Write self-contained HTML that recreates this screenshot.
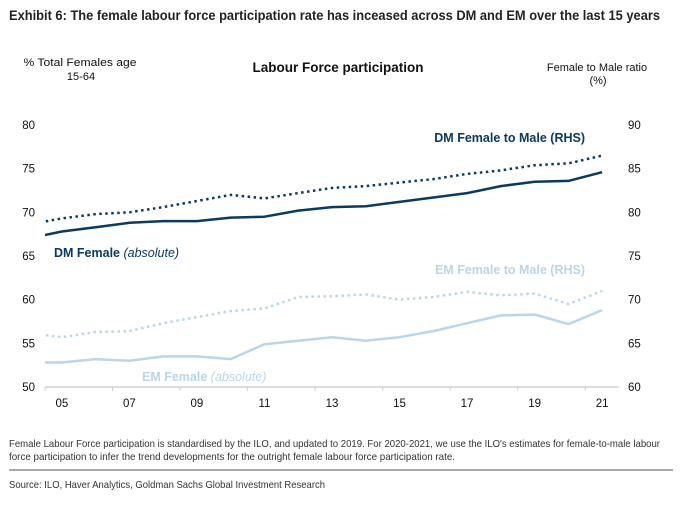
<!DOCTYPE html>
<html><head><meta charset="utf-8"><style>
body{margin:0;background:#fff;width:685px;height:501px;overflow:hidden;font-family:"Liberation Sans",Arial,sans-serif}
svg text{font-family:"Liberation Sans",Arial,sans-serif}
.n{font-family:"Liberation Sans Narrow","Liberation Sans",Arial,sans-serif}
</style></head><body>
<svg id="chart" width="685" height="501" viewBox="0 0 685 501">
<text class="n" x="9" y="20" font-size="13.5" font-weight="bold" fill="#222" textLength="651" lengthAdjust="spacingAndGlyphs">Exhibit 6: The female labour force participation rate has inceased across DM and EM over the last 15 years</text>
<text x="80" y="66" font-size="11" fill="#111" text-anchor="middle" textLength="113" lengthAdjust="spacingAndGlyphs">% Total Females age</text>
<text x="81" y="80" font-size="11" fill="#111" text-anchor="middle">15-64</text>
<text x="338" y="72" font-size="13.5" font-weight="bold" fill="#111" text-anchor="middle">Labour Force participation</text>
<text x="597" y="71" font-size="11" fill="#111" text-anchor="middle">Female to Male ratio</text>
<text x="598" y="84" font-size="11" fill="#111" text-anchor="middle">(%)</text>
<g id="axes"></g>
<g id="series"></g>
<text x="54" y="257" font-size="12.5" font-weight="bold" fill="#0b3a60">DM Female <tspan font-weight="normal" font-style="italic">(absolute)</tspan></text>
<text x="585" y="142" font-size="12.5" font-weight="bold" fill="#0b3a60" text-anchor="end">DM Female to Male (RHS)</text>
<text x="585" y="274" font-size="12.5" font-weight="bold" fill="#b9d6ec" text-anchor="end">EM Female to Male (RHS)</text>
<text x="142" y="381" font-size="12.5" font-weight="bold" fill="#b9d6ec">EM Female <tspan font-weight="normal" font-style="italic">(absolute)</tspan></text>
<text class="n" x="9" y="447" font-size="10.5" fill="#333" textLength="651" lengthAdjust="spacingAndGlyphs">Female Labour Force participation is standardised by the ILO, and updated to 2019. For 2020-2021, we use the ILO's estimates for female-to-male labour</text>
<text class="n" x="9" y="460" font-size="10.5" fill="#333" textLength="446" lengthAdjust="spacingAndGlyphs">force participation to infer the trend developments for the outright female labour force participation rate.</text>
<line x1="9" y1="470" x2="673" y2="470" stroke="#777" stroke-width="1.2"/>
<text class="n" x="9" y="488" font-size="10.5" fill="#333" textLength="316" lengthAdjust="spacingAndGlyphs">Source: ILO, Haver Analytics, Goldman Sachs Global Investment Research</text>
</svg>
<script>
const years=[2004,2005,2006,2007,2008,2009,2010,2011,2012,2013,2014,2015,2016,2017,2018,2019,2020,2021];
const dmFemale=[67.0,67.8,68.3,68.8,69.0,69.0,69.4,69.5,70.2,70.6,70.7,71.2,71.7,72.2,73.0,73.5,73.6,74.6];
const emFemale=[52.8,52.8,53.2,53.0,53.5,53.5,53.2,54.9,55.3,55.7,55.3,55.7,56.4,57.3,58.2,58.3,57.2,58.8];
const dmRatio=[78.6,79.3,79.8,80.0,80.6,81.3,82.0,81.6,82.2,82.8,83.0,83.4,83.8,84.4,84.8,85.4,85.6,86.5];
const emRatio=[66.2,65.7,66.3,66.4,67.3,68.0,68.7,69.0,70.3,70.4,70.6,70.0,70.3,70.9,70.5,70.7,69.5,71.0];
const leftTicks=[50,55,60,65,70,75,80];
const rightTicks=[60,65,70,75,80,85,90];
const xLabels=["05","07","09","11","13","15","17","19","21"];
const NS="http://www.w3.org/2000/svg";
const X0=45,X1=619,BW=(X1-X0)/17,YT=125,YB=387;
function x(yr){return X0+(yr-2004.5)*BW;}
function yL(v){return YB-(v-50)/30*(YB-YT);}
function yR(v){return YB-(v-60)/30*(YB-YT);}
const axes=document.getElementById('axes'),series=document.getElementById('series');
function mk(t,a,p){const e=document.createElementNS(NS,t);for(const k in a)e.setAttribute(k,a[k]);p.appendChild(e);return e;}
const base=mk('line',{x1:X0,y1:YB,x2:X1,y2:YB,stroke:'#d0d0d0','stroke-width':1.5},axes);


for(let i=0;i<=8;i++){const tx=X0+i*2*BW;const t=mk('line',{x1:tx,y1:YB,x2:tx,y2:YB+4,stroke:'#d0d0d0','stroke-width':1},axes);

}
xLabels.forEach((l,i)=>{const t=mk('text',{x:x(2005+2*i),y:YB+20,'font-size':11.5,fill:'#111','text-anchor':'middle'},axes);t.textContent=l;

});
leftTicks.forEach(v=>{const t=mk('text',{x:35,y:yL(v)+4,'font-size':11.5,fill:'#111','text-anchor':'end'},axes);t.textContent=v;

});
rightTicks.forEach(v=>{const t=mk('text',{x:628,y:yR(v)+4,'font-size':11.5,fill:'#111'},axes);t.textContent=v;

});
mk('clipPath',{id:'cp'},series).appendChild(document.createElementNS(NS,'rect'));
const cr=series.querySelector('rect');cr.setAttribute('x',X0);cr.setAttribute('y',0);cr.setAttribute('width',X1-X0);cr.setAttribute('height',501);
function line(vals,fy,col,w,dash,name){const d=vals.map((v,i)=>(i?'L':'M')+x(years[i]).toFixed(1)+','+fy(v).toFixed(1)).join('');
const a={d:d,fill:'none',stroke:col,'stroke-width':w,'clip-path':'url(#cp)','stroke-linejoin':'round'};if(dash){a['stroke-dasharray']=dash;}
const p=mk('path',a,series);

}
line(emRatio,yR,'#b9d6ec',2.5,'2.5 3.5','em-ratio-line');
line(emFemale,yL,'#b9d6ec',2.5,null,'em-female-line');
line(dmRatio,yR,'#0b3a60',2.5,'2.5 3.5','dm-ratio-line');
line(dmFemale,yL,'#0b3a60',2.5,null,'dm-female-line');
</script>
</body></html>
